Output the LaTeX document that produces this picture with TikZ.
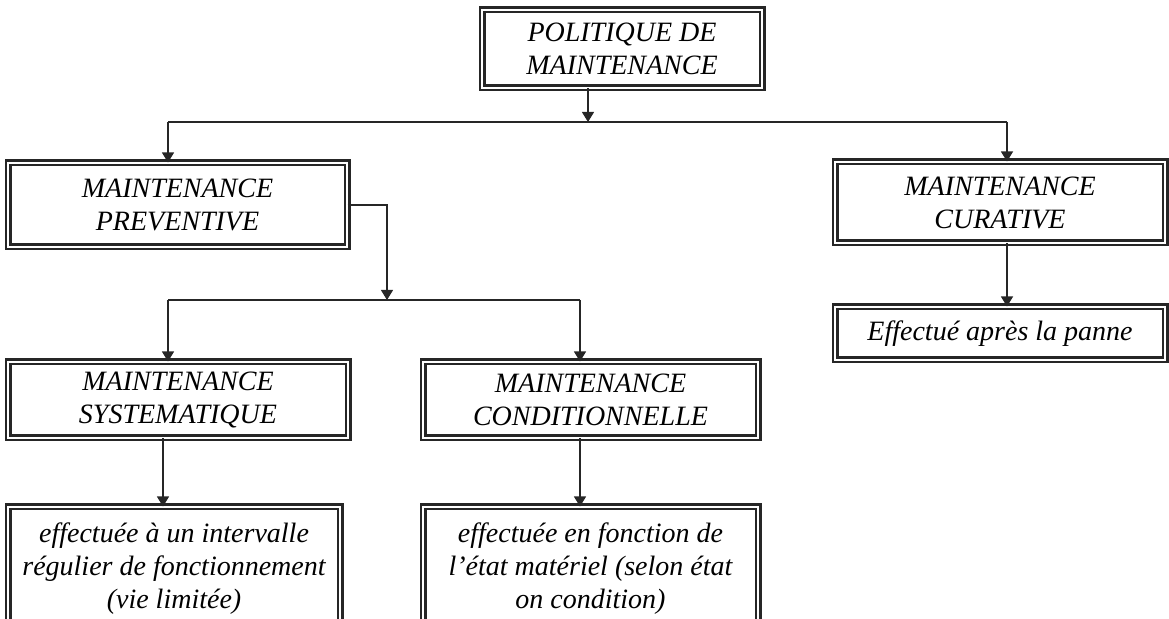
\documentclass[tikz,border=0pt]{standalone}
\usepackage{fontspec}
\setmainfont{Liberation Serif}
\usetikzlibrary{positioning,calc,arrows.meta}
\tikzset{
	boite/.style={draw=black!85, line width=0.5pt, double=white, double distance=1pt,
		preaction={draw=black!85, line width=3.5pt},
		align=center, inner sep=0pt, font=\fontsize{14}{16.5}\selectfont\itshape},
	fleche/.style={-{Triangle[length=5pt,width=6pt]}},
	trait/.style={draw=black!85, line width=0.6pt}
}

\begin{document}
\begin{tikzpicture}[x=0.5pt, y=-0.5pt]
	\useasboundingbox (0,0) rectangle (1169,619);
	\clip (0,0) rectangle (1169,619);
	\begin{scope}[every path/.style={trait}]
		\node[boite, minimum width=140pt, minimum height=39pt] (pol) at (622,49) {POLITIQUE DE\\MAINTENANCE};
		\node[boite, minimum width=169.5pt, minimum height=42pt] (prev) at (177.5,205) {MAINTENANCE\\PREVENTIVE};
		\node[boite, minimum width=165pt, minimum height=40.5pt] (cur) at (1000,202.5) {MAINTENANCE\\CURATIVE};
		\node[boite, minimum width=165pt, minimum height=26.5pt] (apres) at (1000,333.5) {Effectué après la panne};
		\node[boite, minimum width=170pt, minimum height=38pt] (sys) at (178,400) {MAINTENANCE\\SYSTEMATIQUE};
		\node[boite, minimum width=167.5pt, minimum height=38pt] (cond) at (590.5,400) {MAINTENANCE\\CONDITIONNELLE};
		\node[boite, minimum width=166pt, minimum height=61.5pt] (intervalle) at (174,568.5) {effectuée à un intervalle\\régulier de fonctionnement\\(vie limitée)};
		\node[boite, minimum width=167.5pt, minimum height=61.5pt] (etat) at (590.5,568.5) {effectuée en fonction de\\l'état matériel (selon état\\on condition)};

		\coordinate (j1) at (588,122);
		\coordinate (g1) at (168,122);
		\coordinate (d1) at (1007,122);
		\coordinate (j2) at (387,300);
		\coordinate (g2) at (168,300);
		\coordinate (d2) at (580,300);
		\coordinate (s1) at (163,0);

		\draw[fleche] (pol.south -| j1) -- (j1);
		\draw (g1) -- (d1);
		\draw[fleche] (g1) -- (g1 |- prev.north);
		\draw[fleche] (d1) -- (d1 |- cur.north);
		\draw[fleche] (cur.south -| d1) -- (d1 |- apres.north);

		\draw[fleche] (prev.east) -| (j2);
		\draw (g2) -- (d2);
		\draw[fleche] (g2) -- (g2 |- sys.north);
		\draw[fleche] (d2) -- (d2 |- cond.north);
		\draw[fleche] (sys.south -| s1) -- (s1 |- intervalle.north);
		\draw[fleche] (cond.south -| d2) -- (d2 |- etat.north);
	\end{scope}
\end{tikzpicture}
\end{document}
